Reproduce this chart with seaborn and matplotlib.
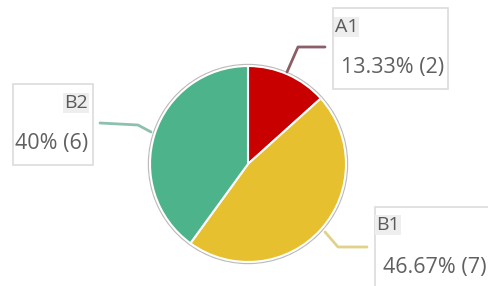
import matplotlib
matplotlib.use("Agg")
import matplotlib.pyplot as plt
import seaborn as sns
from matplotlib.patches import Rectangle

categories = ["A1", "B1", "B2"]
counts = [2, 7, 6]
pct_labels = ["13.33% (2)", "46.67% (7)", "40% (6)"]
colors = ["#C80000", "#E6C02E", "#4DB38A"]

sns.set_theme(style="white")
plt.rcParams['font.family'] = ['Open Sans', 'DejaVu Sans']

W, H = 489, 286
fig = plt.figure(figsize=(W / 100, H / 100), dpi=100)
ax = fig.add_axes([0, 0, 1, 1])
ax.set_xlim(0, W)
ax.set_ylim(0, H)
ax.set_aspect('equal')
ax.axis('off')

cx, cy, r = 248, H - 164, 98
ax.add_patch(plt.Circle((cx, cy), r + 1.5, color="#bbbbbb", zorder=0))
ax.pie(counts, colors=colors, startangle=90, counterclock=False,
       center=(cx, cy), radius=r,
       wedgeprops=dict(edgecolor="white", linewidth=1.5))
ax.set_xlim(0, W)
ax.set_ylim(0, H)

def y(p):
    return H - p

FS = 15.5
boxes = [
    dict(rect=(333, 8, 115, 81), t=(335, 27), v=(341, 68), ha_t="left",
         line=[(325, 47), (298, 47), (287, 72)], lc="#8c5e68"),
    dict(rect=(375, 207, 125, 85), t=(376, 225), v=(383, 267), ha_t="left",
         line=[(367, 247), (338, 247), (325, 232)], lc="#e0d28a"),
    dict(rect=(13, 84, 80, 81), t=(88, 103), v=(15, 143), ha_t="right",
         line=[(100, 123), (138, 125), (151, 132)], lc="#8dc0ad"),
]

for b, name, val in zip(boxes, categories, pct_labels):
    x0, y0, w, h = b["rect"]
    ax.add_patch(Rectangle((x0, y(y0 + h)), w, h, facecolor="white",
                           edgecolor="#dcdcdc", linewidth=1.2, zorder=3))
    ax.text(b["t"][0], y(b["t"][1]), name, ha=b["ha_t"], va="center",
            fontsize=14, color="#5a5a5a", zorder=4,
            bbox=dict(boxstyle="square,pad=0.05", facecolor="#eeeeee",
                      edgecolor="none"))
    ax.text(b["v"][0], y(b["v"][1]), val, ha="left", va="center",
            fontsize=FS, color="#606060", zorder=4)
    xs = [p[0] for p in b["line"]]
    ys = [y(p[1]) for p in b["line"]]
    ax.plot(xs, ys, color=b["lc"], linewidth=2, zorder=2)

fig.savefig("out.png", dpi=100)
